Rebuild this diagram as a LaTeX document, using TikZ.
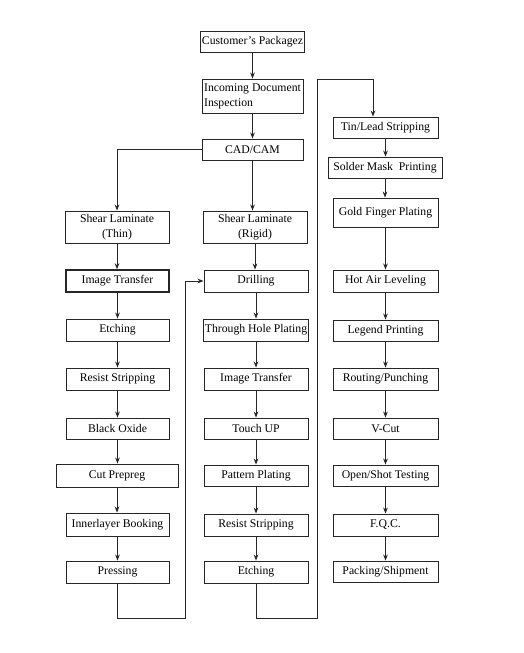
\documentclass[tikz,border=0pt]{standalone}
\usepackage{fontspec}
\setmainfont{Liberation Serif}
\usetikzlibrary{arrows.meta}
\begin{document}
\begin{tikzpicture}[x=0.75pt,y=-0.75pt,
  box/.style={draw=black!85,line width=0.7pt,inner sep=1pt,align=center,
    font=\fontsize{8.8}{11.2}\selectfont,minimum height=16.5pt},
  lw/.style={minimum width=77.25pt},
  mw/.style={minimum width=78pt},
  rw/.style={minimum width=78.75pt},
  tw/.style={minimum width=75.75pt},
  arr/.style={draw=black!85,line width=0.7pt,-{Stealth[length=4.5pt,width=3.5pt]}}]
\useasboundingbox[fill=white] (0,0) rectangle (524,653);
% top column
\node[box,tw,minimum height=15.75pt] (cust) at (252.5,41.5) {Customer's Packagez};
\node[box,tw,minimum height=25.5pt,align=left] (inc) at (252.5,96) {Incoming Document\\Inspection};
\node[box,tw,minimum height=15.75pt] (cad) at (252.5,149.5) {CAD/CAM};
% left column
\node[box,minimum width=78pt,minimum height=24pt] (thin) at (117,227) {Shear Laminate\\(Thin)};
\node[box,lw,line width=1.1pt] (imgL) at (117.5,281) {Image Transfer};
\node[box,lw] (etchL) at (117.5,330) {Etching};
\node[box,lw] (resL) at (117.5,379) {Resist Stripping};
\node[box,lw,minimum height=15.75pt] (oxide) at (117.5,428.5) {Black Oxide};
\node[box,minimum width=91.5pt,minimum height=17.25pt] (prep) at (117,475.5) {Cut Prepreg};
\node[box,lw,minimum height=17.25pt] (book) at (117.5,524.5) {Innerlayer Booking};
\node[box,lw] (press) at (117.5,572) {Pressing};
% middle column
\node[box,mw,minimum height=24pt] (rigid) at (255,227) {Shear Laminate\\(Rigid)};
\node[box,mw] (drill) at (256,281) {Drilling};
\node[box,mw] (thp) at (256,330) {Through Hole Plating};
\node[box,mw] (imgM) at (256,379) {Image Transfer};
\node[box,mw,minimum height=15.75pt] (touch) at (256,428.5) {Touch UP};
\node[box,mw,minimum height=15.75pt] (pat) at (256,475.5) {Pattern Plating};
\node[box,mw] (resM) at (256,525) {Resist Stripping};
\node[box,mw] (etchM) at (256,572) {Etching};
% right column
\node[box,rw,minimum height=15.75pt] (tin) at (385.5,127.5) {Tin/Lead Stripping};
\node[box,minimum width=85.5pt,minimum height=15.75pt] (solder) at (385,167.5) {Solder Mask\ \ Printing};
\node[box,rw,minimum height=21.75pt] (gold) at (385.5,212.5) {Gold Finger Plating};
\node[box,rw] (hot) at (385.5,281) {Hot Air Leveling};
\node[box,rw,minimum height=15.75pt] (legend) at (385.5,330.5) {Legend Printing};
\node[box,rw] (rout) at (385.5,379) {Routing/Punching};
\node[box,rw,minimum height=15.75pt] (vcut) at (385.5,428.5) {V-Cut};
\node[box,rw,minimum height=15.75pt] (open) at (385.5,475.5) {Open/Shot Testing};
\node[box,rw] (fqc) at (385.5,525) {F.Q.C.};
\node[box,rw,minimum height=15.75pt] (pack) at (385.5,571.5) {Packing/Shipment};
% loop coordinates
\coordinate (l1) at (185,618);
\coordinate (l2) at (317,618);
\coordinate (l3) at (373,79);
% connectors
\draw[arr] (cust) -- (inc);
\draw[arr] (inc) -- (cad);
\draw[arr] (cad.west) -| (thin.north);
\draw[arr] (cad.south) -- (cad.south |- rigid.north);
\foreach \a/\b in {thin/imgL,imgL/etchL,etchL/resL,resL/oxide,oxide/prep,prep/book,book/press,
  rigid/drill,drill/thp,thp/imgM,imgM/touch,touch/pat,pat/resM,resM/etchM,
  tin/solder,solder/gold,gold/hot,hot/legend,legend/rout,rout/vcut,vcut/open,open/fqc,fqc/pack}
  \draw[arr] (\a.south) -- (\a.south |- \b.north);
\draw[arr] (press.south) |- (l1) |- (drill.west);
\draw[arr] (etchM.south) |- (l2) |- (l3) -- (l3 |- tin.north);
\end{tikzpicture}
\end{document}
